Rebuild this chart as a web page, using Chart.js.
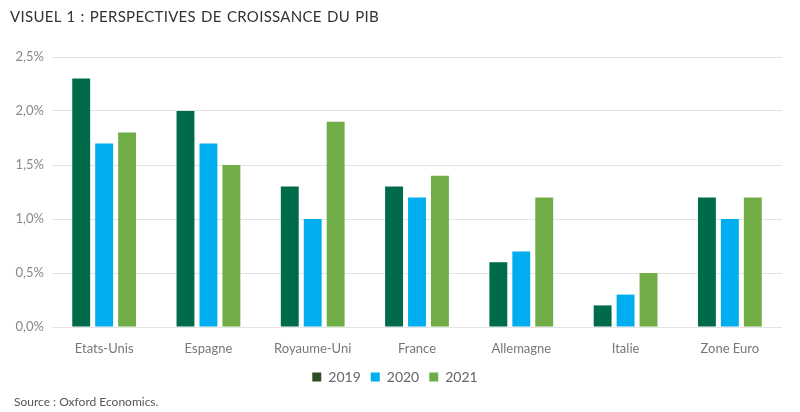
<!DOCTYPE html>
<html>
<head>
<meta charset="utf-8">
<script src="https://cdn.jsdelivr.net/npm/chart.js@4"></script>
<style>
  body { margin: 0; background: #fff; }
  #wrap { position: relative; width: 800px; height: 412px; }
  #titre { position: absolute; left: 10px; top: 7px; font: 15px Lato, sans-serif; color: #333; letter-spacing: 0.3px; word-spacing: 1px; }
  #source { position: absolute; left: 14px; top: 394px; font: 12px Lato, sans-serif; color: #555; }
</style>
</head>
<body>
<div id="wrap">
  <canvas id="mycanvas" width="800" height="412"></canvas>
  <div id="titre">VISUEL 1 : PERSPECTIVES DE CROISSANCE DU PIB</div>
  <div id="source">Source : Oxford Economics.</div>
</div>
<script>
var pays = ['Etats-Unis', 'Espagne', 'Royaume-Uni', 'France', 'Allemagne', 'Italie', 'Zone Euro'];
var annees = ['2019', '2020', '2021'];
var pib2019 = [2.3, 2.0, 1.3, 1.3, 0.6, 0.2, 1.2];
var pib2020 = [1.7, 1.7, 1.0, 1.2, 0.7, 0.3, 1.0];
var pib2021 = [1.8, 1.5, 1.9, 1.4, 1.2, 0.5, 1.2];
var couleurs = ['#006b4b', '#00aeef', '#70ad47'];
var legendeCouleurs = ['#2d4f24', '#00aeef', '#70ad47'];

var ctx = document.getElementById('mycanvas');

var chartdata = {
	labels: pays,
	datasets: [pib2019, pib2020, pib2021].map(function(d, i) {
		return {
			label: annees[i],
			data: d,
			backgroundColor: couleurs[i],
			categoryPercentage: 0.66,
			barPercentage: 0.78
		};
	})
};

var barGraph = new Chart(ctx, {
	type: 'bar',
	data: chartdata,
	options: {
		responsive: false,
		animation: false,
		layout: { padding: { left: 8, right: 18, top: 57, bottom: 18 } },
		plugins: {
			tooltip: { enabled: false },
			legend: {
				position: 'bottom',
				labels: {
					boxWidth: 9,
					boxHeight: 9,
					padding: 10,
					color: '#666',
					font: { family: 'Lato', size: 14 },
					generateLabels: function(chart) {
						return annees.map(function(a, i) {
							return { text: a, fillStyle: legendeCouleurs[i], strokeStyle: legendeCouleurs[i], lineWidth: 0, datasetIndex: i, fontColor: '#666' };
						});
					}
				}
			}
		},
		scales: {
			x: {
				grid: { display: false },
				border: { display: false },
				ticks: { color: '#777', font: { family: 'Lato', size: 13 }, padding: 6 },
				afterFit: function(s) { s.height = 33; }
			},
			y: {
				min: 0,
				max: 2.5,
				grid: { color: '#e3e3e3', drawTicks: false },
				border: { display: false },
				ticks: {
					stepSize: 0.5,
					padding: 8,
					color: '#888',
					font: { family: 'Lato', size: 13 },
					callback: function(v) { return v.toFixed(1).replace('.', ',') + '%'; }
				},
				afterFit: function(s) { s.width = 44; }
			}
		}
	}
});
</script>
</body>
</html>
